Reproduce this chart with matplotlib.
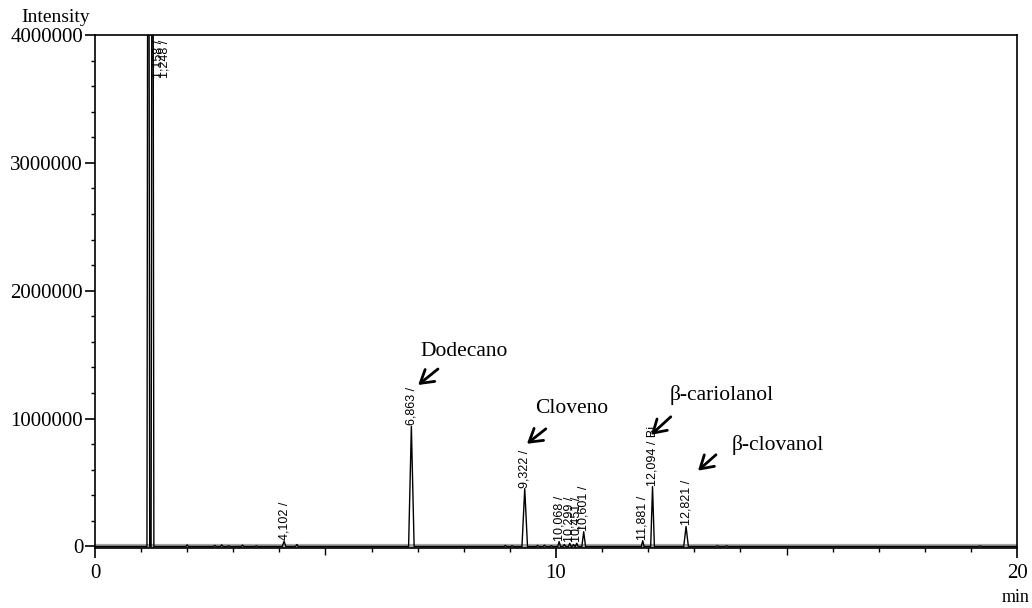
import matplotlib
matplotlib.use('Agg')
import matplotlib.pyplot as plt
from matplotlib.ticker import MultipleLocator, FuncFormatter

# --- picos do cromatograma (tempo em min, altura, meia-largura da base) ---
tempos = [1.158, 1.248, 2.0, 2.6, 2.75, 2.9, 3.2, 3.5, 4.102, 4.38,
          6.863, 8.9, 9.05, 9.322, 9.6, 9.75, 9.9, 10.068, 10.18, 10.299,
          10.38, 10.451, 10.601, 11.881, 12.094, 12.821, 13.5, 13.7, 19.2]
alturas = [9000000, 8500000, 12000, 8000, 12000, 6000, 10000, 5000, 40000, 15000,
           940000, 8000, 6000, 452000, 8000, 10000, 6000, 38000, 15000, 25000,
           15000, 25000, 115000, 45000, 468000, 156000, 5000, 5000, 4000]
larguras = [0.03, 0.03, 0.03, 0.03, 0.03, 0.03, 0.03, 0.03, 0.04, 0.03,
            0.06, 0.03, 0.03, 0.06, 0.03, 0.03, 0.03, 0.03, 0.03, 0.03,
            0.03, 0.03, 0.04, 0.03, 0.04, 0.05, 0.04, 0.04, 0.05]

# picos identificados (texto rotacionado em cima do pico)
rotulos_tempo = [4.102, 6.863, 9.322, 10.068, 10.299, 10.451, 10.601, 11.881, 12.094, 12.821]
rotulos_altura = [40000, 940000, 452000, 38000, 25000, 25000, 115000, 45000, 468000, 156000]
rotulos_texto = ["4,102 /", "6,863 /", "9,322 /", "10,068 /", "10,299 /", "10,451 /",
                 "10,601 /", "11,881 /", "12,094 / Bi", "12,821 /"]

# compostos marcados com seta: (nome, posição do texto, ponta da seta, cauda da seta)
compostos = ["Dodecano", "Cloveno", "β-cariolanol", "β-clovanol"]
texto_x = [7.07, 9.54, 12.47, 13.80]
texto_y = [1528000, 1076000, 1185000, 795000]
seta_x = [7.01, 9.37, 12.06, 13.08]
seta_y = [1263000, 803000, 873000, 593000]
cauda_x = [7.44, 9.78, 12.49, 13.47]
cauda_y = [1388000, 920000, 1014000, 717000]

# monta o traçado como uma linha de base com picos triangulares
x = [0.0]
y = [0.0]
for t, h, w in zip(tempos, alturas, larguras):
    x += [t - w, t, t + w]
    y += [0.0, h, 0.0]
x.append(20.0)
y.append(0.0)

serif = 'Liberation Serif'
narrow = ['Liberation Sans Narrow', 'Liberation Sans']

fig = plt.figure(figsize=(10.32, 6.08), dpi=100)
ax = fig.add_axes([0.092, 0.0987, 0.8935, 0.8437])

ax.axhline(0, color='0.65', lw=3, zorder=1)
ax.plot(x, y, color='black', lw=1.0, zorder=2)

ax.set_xlim(0, 20)
ax.set_ylim(-12000, 4000000)

for s in ax.spines.values():
    s.set_linewidth(1.2)

ax.xaxis.set_major_locator(MultipleLocator(10))
ax.xaxis.set_minor_locator(MultipleLocator(1))
ax.yaxis.set_major_locator(MultipleLocator(1000000))
ax.yaxis.set_minor_locator(MultipleLocator(200000))
ax.yaxis.set_major_formatter(FuncFormatter(lambda v, p: "%d" % v))
ax.tick_params(axis='both', which='major', direction='out', length=7.5, width=1.2,
               labelsize=15, top=False, right=False)
ax.tick_params(axis='both', which='minor', direction='out', length=3, width=1.0,
               top=False, right=False)
ax.tick_params(axis='x', which='major', pad=4)
ax.tick_params(axis='y', which='major', pad=1)
for lab in ax.get_xticklabels() + ax.get_yticklabels():
    lab.set_fontfamily(serif)

# ticks intermediários em 5 e 15 min um pouco maiores
for tick, loc in zip(ax.xaxis.get_minor_ticks(), ax.xaxis.get_minorticklocs()):
    if abs(loc % 5) < 1e-6:
        tick.tick1line.set_markersize(5)

# rótulos dos picos
for t, h, txt in zip(rotulos_tempo, rotulos_altura, rotulos_texto):
    ax.text(t, h + 8000, txt, rotation=90, ha='center', va='bottom',
            fontsize=9, family=narrow, zorder=3)

# picos do solvente saem da escala: rótulos no topo
ax.text(1.38, 3960000, "1,158 /", rotation=90, ha='center', va='top',
        fontsize=9, family=narrow)
ax.text(1.50, 3960000, "1,248 /", rotation=90, ha='center', va='top',
        fontsize=9, family=narrow)

for nome, tx, ty, sx, sy, cx, cy in zip(compostos, texto_x, texto_y, seta_x, seta_y,
                                         cauda_x, cauda_y):
    ax.text(tx, ty, nome, ha='left', va='center', fontsize=15.5, family=serif)
    ax.annotate("", xy=(sx, sy), xytext=(cx, cy),
                arrowprops=dict(arrowstyle='->,head_length=0.9,head_width=0.55',
                                lw=2.0, color='black', shrinkA=0, shrinkB=0))

fig.text(56 / 1032, 1 - 18 / 608, "Intensity", ha='center', va='center',
         fontsize=14, family=serif)
fig.text(1016 / 1032, 1 - 597 / 608, "min", ha='center', va='center',
         fontsize=13, family=serif)

fig.savefig('out.png', dpi=100)
